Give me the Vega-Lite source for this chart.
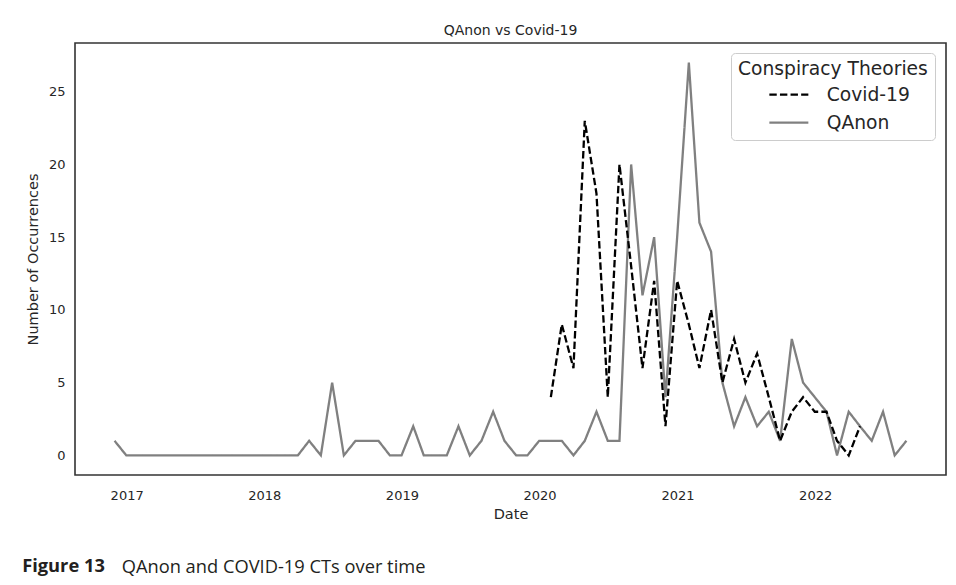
{
  "$schema": "https://vega.github.io/schema/vega-lite/v6.json",
  "background": "white",
  "padding": {"left": 22, "top": 23, "right": 5, "bottom": 1},
  "title": {"text": "Figure 13", "orient": "bottom", "anchor": "start", "font": "Open Sans", "fontSize": 18.3, "fontWeight": "bold", "color": "#231f20", "offset": -18.3, "dx": -2.5},
  "datasets": {
    "counts": [
      {"date": "2016-11-30", "series": "QAnon", "count": 1},
      {"date": "2016-12-31", "series": "QAnon", "count": 0},
      {"date": "2017-01-31", "series": "QAnon", "count": 0},
      {"date": "2017-02-28", "series": "QAnon", "count": 0},
      {"date": "2017-03-31", "series": "QAnon", "count": 0},
      {"date": "2017-04-30", "series": "QAnon", "count": 0},
      {"date": "2017-05-31", "series": "QAnon", "count": 0},
      {"date": "2017-06-30", "series": "QAnon", "count": 0},
      {"date": "2017-07-31", "series": "QAnon", "count": 0},
      {"date": "2017-08-31", "series": "QAnon", "count": 0},
      {"date": "2017-09-30", "series": "QAnon", "count": 0},
      {"date": "2017-10-31", "series": "QAnon", "count": 0},
      {"date": "2017-11-30", "series": "QAnon", "count": 0},
      {"date": "2017-12-31", "series": "QAnon", "count": 0},
      {"date": "2018-01-31", "series": "QAnon", "count": 0},
      {"date": "2018-02-28", "series": "QAnon", "count": 0},
      {"date": "2018-03-31", "series": "QAnon", "count": 0},
      {"date": "2018-04-30", "series": "QAnon", "count": 1},
      {"date": "2018-05-31", "series": "QAnon", "count": 0},
      {"date": "2018-06-30", "series": "QAnon", "count": 5},
      {"date": "2018-07-31", "series": "QAnon", "count": 0},
      {"date": "2018-08-31", "series": "QAnon", "count": 1},
      {"date": "2018-09-30", "series": "QAnon", "count": 1},
      {"date": "2018-10-31", "series": "QAnon", "count": 1},
      {"date": "2018-11-30", "series": "QAnon", "count": 0},
      {"date": "2018-12-31", "series": "QAnon", "count": 0},
      {"date": "2019-01-31", "series": "QAnon", "count": 2},
      {"date": "2019-02-28", "series": "QAnon", "count": 0},
      {"date": "2019-03-31", "series": "QAnon", "count": 0},
      {"date": "2019-04-30", "series": "QAnon", "count": 0},
      {"date": "2019-05-31", "series": "QAnon", "count": 2},
      {"date": "2019-06-30", "series": "QAnon", "count": 0},
      {"date": "2019-07-31", "series": "QAnon", "count": 1},
      {"date": "2019-08-31", "series": "QAnon", "count": 3},
      {"date": "2019-09-30", "series": "QAnon", "count": 1},
      {"date": "2019-10-31", "series": "QAnon", "count": 0},
      {"date": "2019-11-30", "series": "QAnon", "count": 0},
      {"date": "2019-12-31", "series": "QAnon", "count": 1},
      {"date": "2020-01-31", "series": "QAnon", "count": 1},
      {"date": "2020-02-29", "series": "QAnon", "count": 1},
      {"date": "2020-03-31", "series": "QAnon", "count": 0},
      {"date": "2020-04-30", "series": "QAnon", "count": 1},
      {"date": "2020-05-31", "series": "QAnon", "count": 3},
      {"date": "2020-06-30", "series": "QAnon", "count": 1},
      {"date": "2020-07-31", "series": "QAnon", "count": 1},
      {"date": "2020-08-31", "series": "QAnon", "count": 20},
      {"date": "2020-09-30", "series": "QAnon", "count": 11},
      {"date": "2020-10-31", "series": "QAnon", "count": 15},
      {"date": "2020-11-30", "series": "QAnon", "count": 4},
      {"date": "2020-12-31", "series": "QAnon", "count": 15},
      {"date": "2021-01-31", "series": "QAnon", "count": 27},
      {"date": "2021-02-28", "series": "QAnon", "count": 16},
      {"date": "2021-03-31", "series": "QAnon", "count": 14},
      {"date": "2021-04-30", "series": "QAnon", "count": 5},
      {"date": "2021-05-31", "series": "QAnon", "count": 2},
      {"date": "2021-06-30", "series": "QAnon", "count": 4},
      {"date": "2021-07-31", "series": "QAnon", "count": 2},
      {"date": "2021-08-31", "series": "QAnon", "count": 3},
      {"date": "2021-09-30", "series": "QAnon", "count": 1},
      {"date": "2021-10-31", "series": "QAnon", "count": 8},
      {"date": "2021-11-30", "series": "QAnon", "count": 5},
      {"date": "2021-12-31", "series": "QAnon", "count": 4},
      {"date": "2022-01-31", "series": "QAnon", "count": 3},
      {"date": "2022-02-28", "series": "QAnon", "count": 0},
      {"date": "2022-03-31", "series": "QAnon", "count": 3},
      {"date": "2022-04-30", "series": "QAnon", "count": 2},
      {"date": "2022-05-31", "series": "QAnon", "count": 1},
      {"date": "2022-06-30", "series": "QAnon", "count": 3},
      {"date": "2022-07-31", "series": "QAnon", "count": 0},
      {"date": "2022-08-31", "series": "QAnon", "count": 1},
      {"date": "2020-01-31", "series": "Covid-19", "count": 4},
      {"date": "2020-02-29", "series": "Covid-19", "count": 9},
      {"date": "2020-03-31", "series": "Covid-19", "count": 6},
      {"date": "2020-04-30", "series": "Covid-19", "count": 23},
      {"date": "2020-05-31", "series": "Covid-19", "count": 18},
      {"date": "2020-06-30", "series": "Covid-19", "count": 4},
      {"date": "2020-07-31", "series": "Covid-19", "count": 20},
      {"date": "2020-08-31", "series": "Covid-19", "count": 13},
      {"date": "2020-09-30", "series": "Covid-19", "count": 6},
      {"date": "2020-10-31", "series": "Covid-19", "count": 12},
      {"date": "2020-11-30", "series": "Covid-19", "count": 2},
      {"date": "2020-12-31", "series": "Covid-19", "count": 12},
      {"date": "2021-01-31", "series": "Covid-19", "count": 9},
      {"date": "2021-02-28", "series": "Covid-19", "count": 6},
      {"date": "2021-03-31", "series": "Covid-19", "count": 10},
      {"date": "2021-04-30", "series": "Covid-19", "count": 5},
      {"date": "2021-05-31", "series": "Covid-19", "count": 8},
      {"date": "2021-06-30", "series": "Covid-19", "count": 5},
      {"date": "2021-07-31", "series": "Covid-19", "count": 7},
      {"date": "2021-08-31", "series": "Covid-19", "count": 4},
      {"date": "2021-09-30", "series": "Covid-19", "count": 1},
      {"date": "2021-10-31", "series": "Covid-19", "count": 3},
      {"date": "2021-11-30", "series": "Covid-19", "count": 4},
      {"date": "2021-12-31", "series": "Covid-19", "count": 3},
      {"date": "2022-01-31", "series": "Covid-19", "count": 3},
      {"date": "2022-02-28", "series": "Covid-19", "count": 1},
      {"date": "2022-03-31", "series": "Covid-19", "count": 0},
      {"date": "2022-04-30", "series": "Covid-19", "count": 2}
    ]
  },
  "vconcat": [
    {
      "title": {"text": "QAnon and COVID-19 CTs over time", "orient": "bottom", "anchor": "start", "font": "Open Sans", "fontSize": 18.3, "fontWeight": "normal", "color": "#231f20", "offset": 37, "dx": 97},
      "vconcat": [
        {
          "title": {"text": "QAnon vs Covid-19", "font": "DejaVu Sans", "fontSize": 14, "fontWeight": "normal", "color": "#262626", "anchor": "middle", "offset": 5},
          "width": 871,
          "height": 432,
          "data": {"name": "counts"},
          "mark": {"type": "line", "strokeWidth": 2.3, "clip": true},
          "encoding": {
            "x": {
              "field": "date", "type": "temporal", "title": "Date",
              "scale": {"domain": ["2016-08-17", "2022-12-14"], "nice": false},
              "axis": {"format": "%Y", "tickCount": {"interval": "year", "step": 1}, "grid": false, "ticks": false, "domain": false, "labelPadding": 14.5, "titlePadding": 5, "labelFont": "DejaVu Sans", "labelFontSize": 13, "labelColor": "#262626", "titleFont": "DejaVu Sans", "titleFontSize": 14.5, "titleFontWeight": "normal", "titleColor": "#262626"}
            },
            "y": {
              "field": "count", "type": "quantitative", "title": "Number of Occurrences",
              "scale": {"domain": [-1.35, 28.35], "nice": false, "zero": false},
              "axis": {"values": [0, 5, 10, 15, 20, 25], "grid": false, "ticks": false, "domain": false, "labelPadding": 10, "titlePadding": 8, "labelFont": "DejaVu Sans", "labelFontSize": 13, "labelColor": "#262626", "titleFont": "DejaVu Sans", "titleFontSize": 14.5, "titleFontWeight": "normal", "titleColor": "#262626"}
            },
            "color": {
              "field": "series", "type": "nominal", "title": "Conspiracy Theories",
              "scale": {"domain": ["Covid-19", "QAnon"], "range": ["#000000", "#808080"]},
              "legend": {
                "orient": "none", "legendX": 656, "legendY": 10,
                "symbolType": "M4.4,0L12.2,0", "symbolSize": 100, "symbolStrokeWidth": 2.3,
                "labelOffset": 70, "labelFont": "DejaVu Sans", "labelFontSize": 18.7, "labelColor": "#262626", "labelLimit": 300,
                "titleFont": "DejaVu Sans", "titleFontSize": 18.7, "titleFontWeight": "normal", "titleColor": "#262626", "titlePadding": 6.5, "titleLimit": 400,
                "padding": 7, "rowPadding": 8, "strokeColor": "#cccccc", "cornerRadius": 4, "fillColor": "rgba(255,255,255,0.8)"
              }
            },
            "strokeDash": {
              "field": "series", "type": "nominal", "title": "Conspiracy Theories",
              "scale": {"domain": ["Covid-19", "QAnon"], "range": [[7.4, 3.2], [1, 0]]}
            }
          }
        }
      ]
    }
  ],
  "config": {
    "view": {"stroke": "#333333", "strokeWidth": 1.6},
    "concat": {"spacing": 0}
  }
}
